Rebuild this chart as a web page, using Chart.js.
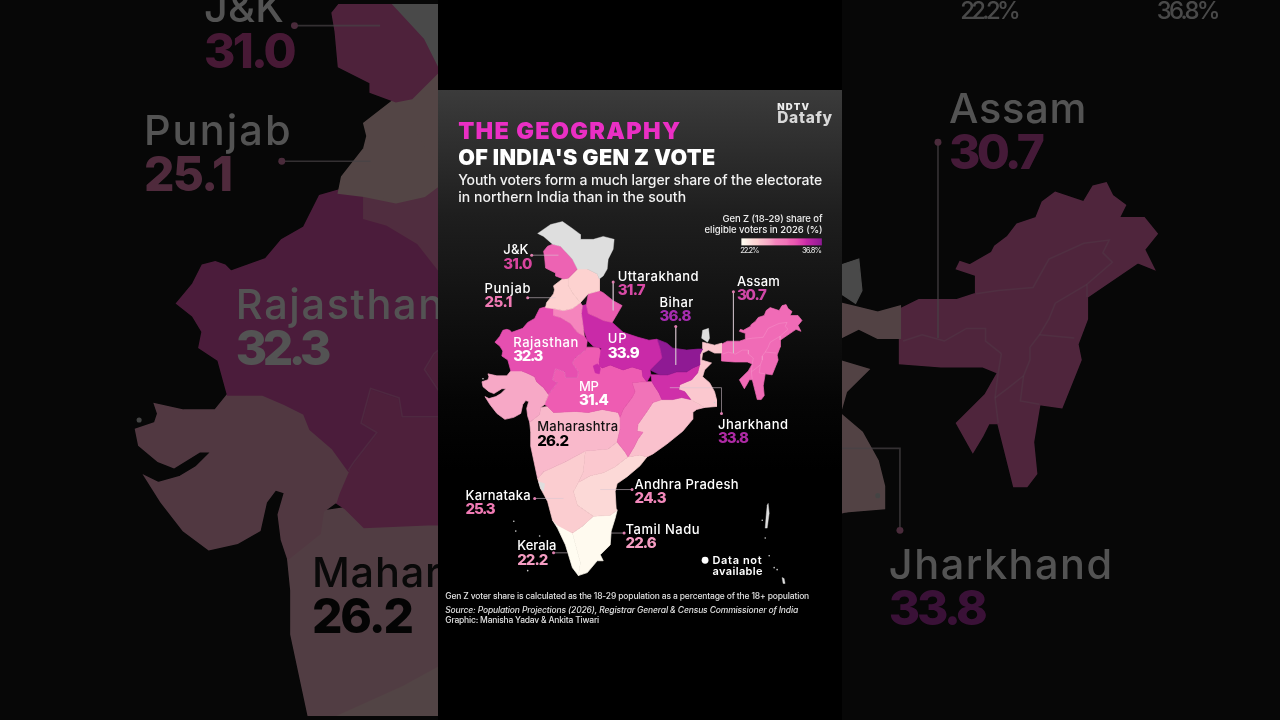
<!DOCTYPE html>
<html>
<head>
<meta charset="utf-8">
<title>The geography of India's Gen Z vote</title>
<script src="https://cdn.jsdelivr.net/npm/chart.js@4/dist/chart.umd.js"></script>
<style>
  html, body { margin: 0; background: #070707; overflow: hidden; }
  canvas { position: absolute; left: 0; top: 0; }
  #back { opacity: 0.31; filter: blur(0.7px); }
  #panel { position: absolute; left: 438px; top: 0; width: 404px; height: 720px;
    background: linear-gradient(#000 0, #000 90px, #3b3b3b 90px, #1e1e1e 215px, #050505 400px, #000 470px); }
</style>
</head>
<body>
<canvas id="back" width="1280" height="720"></canvas>
<div id="panel"></div>
<canvas id="front" width="1280" height="720"></canvas>
<script>
// gen z share (%) by state, labelled ones read from the graphic, others estimated from the shade
const states = ['J&K', 'Himachal', 'Punjab', 'Haryana', 'Uttarakhand', 'UP', 'Bihar', 'Jharkhand', 'West Bengal',
  'Rajasthan', 'Gujarat', 'MP', 'Chhattisgarh', 'Odisha', 'Maharashtra', 'Telangana', 'Karnataka', 'Andhra Pradesh',
  'Tamil Nadu', 'Kerala', 'North East'];
const shares = [31.0, 25.0, 25.1, 28.4, 31.7, 33.9, 36.8, 33.8, 25.4, 32.3, 27.2, 31.4, 30.4, 25.7, 26.2, 25.4, 25.3, 24.3, 22.6, 22.2, 30.7];

// outlines in map units
const outlines = {
  'J&K': [[552,243],[560,245],[572,258],[577,268],[568,277],[563,278],[555,275],[555,272],[545,267],[544,256],[543,250],[547,245]],
  'Himachal': [[577,268],[587,268],[597,273],[599,278],[599,290],[588,293],[580,302],[572,292],[568,285],[568,277]],
  'Punjab': [[568,277],[562,278],[553,285],[554,289],[553,293],[546,302],[545,307],[553,308],[563,310],[572,308],[580,302],[572,292],[568,285]],
  'Haryana': [[553,308],[563,310],[572,308],[580,302],[582,305],[581,313],[583,328],[584,336],[577,332],[570,323],[560,317],[553,315]],
  'Uttarakhand': [[599,290],[603,292],[613,300],[622,305],[615,317],[612,322],[603,320],[597,317],[588,313],[586,304],[588,293]],
  'UP': [[586,304],[588,313],[597,317],[603,320],[612,322],[623,332],[638,337],[649,340],[657,339],[660,348],[662,358],[655,365],[650,370],[651,375],[647,382],[643,377],[642,370],[632,367],[623,370],[610,365],[602,368],[597,364],[593,366],[595,373],[599,374],[600,369],[599,362],[601,348],[593,346],[587,340],[583,328],[581,313],[582,305]],
  'Bihar': [[657,339],[667,343],[673,348],[687,350],[698,349],[703,349],[700,355],[700,365],[693,368],[687,372],[677,372],[668,375],[660,375],[650,370],[655,365],[662,358],[660,348]],
  'Jharkhand': [[651,375],[660,375],[668,375],[677,372],[687,372],[693,368],[700,365],[698,373],[692,380],[680,385],[679,390],[685,392],[691,400],[682,398],[673,400],[662,400],[659,393],[655,387],[652,382]],
  'West Bengal': [[703,342],[707,343],[715,345],[722,343],[722,353],[715,353],[709,350],[703,353],[702,360],[712,363],[705,370],[703,377],[710,383],[715,392],[717,400],[717,407],[705,408],[700,405],[691,400],[685,392],[679,390],[680,385],[692,380],[698,373],[700,365],[700,355],[703,349]],
  'Rajasthan': [[546,306],[553,308],[553,315],[560,317],[570,323],[577,332],[584,336],[587,340],[586,347],[585,350],[575,358],[572,363],[578,372],[577,378],[565,378],[564,372],[555,369],[552,380],[557,383],[550,392],[548,395],[543,388],[536,382],[534,377],[528,374],[521,371],[510,371],[507,360],[501,356],[502,351],[499,346],[494,342],[499,336],[502,330],[506,329],[509,330],[511,332],[522,328],[527,322],[534,318],[539,308]],
  'Gujarat': [[510,371],[506,376],[496,376],[487,374],[488,377],[487,380],[481,382],[482,387],[488,392],[493,394],[501,389],[505,389],[500,394],[495,397],[488,399],[484,397],[489,405],[496,414],[504,420],[513,418],[520,414],[522,405],[525,401],[528,402],[526,409],[527,417],[529,423],[539,415],[540,408],[544,405],[545,402],[548,395],[543,388],[536,382],[534,377],[528,374],[521,371]],
  'MP': [[586,347],[598,347],[602,352],[599,360],[599,362],[600,369],[599,374],[595,373],[593,366],[597,364],[602,368],[610,365],[623,370],[632,367],[642,370],[643,377],[647,382],[642,382],[632,383],[635,392],[632,398],[623,410],[620,418],[618,413],[602,410],[588,413],[575,412],[553,413],[547,407],[544,405],[545,402],[548,395],[550,392],[557,383],[552,380],[555,369],[564,372],[565,378],[577,378],[578,372],[572,363],[575,358],[585,350]],
  'Chhattisgarh': [[632,383],[642,382],[647,382],[652,382],[655,387],[659,393],[662,400],[653,403],[647,412],[638,425],[637,432],[643,433],[638,440],[634,448],[628,458],[625,453],[617,443],[620,430],[620,418],[623,410],[632,398],[635,392]],
  'Odisha': [[662,400],[673,400],[682,398],[691,400],[700,405],[705,408],[697,410],[693,413],[693,420],[683,432],[667,445],[653,455],[647,458],[640,456],[628,458],[634,448],[638,440],[643,433],[637,432],[638,425],[647,412],[653,403]],
  'Maharashtra': [[529,423],[539,415],[540,408],[547,407],[553,413],[575,412],[588,413],[602,410],[618,413],[620,418],[620,430],[617,443],[608,450],[585,452],[565,463],[543,473],[537,480],[530,447],[530,433]],
  'Telangana': [[585,452],[608,450],[617,443],[625,453],[628,458],[625,460],[615,468],[603,474],[590,477],[578,484],[583,473]],
  'Karnataka': [[543,473],[565,463],[585,452],[583,473],[578,484],[573,493],[577,507],[593,518],[582,528],[572,535],[557,527],[552,522],[547,503],[540,490],[537,480]],
  'Andhra Pradesh': [[578,484],[590,477],[603,474],[615,468],[625,460],[628,458],[640,456],[647,458],[640,467],[627,478],[617,485],[615,493],[616,510],[617,512],[610,517],[593,518],[577,507],[573,493]],
  'Tamil Nadu': [[572,535],[582,528],[593,518],[610,517],[617,512],[615,520],[611,533],[610,547],[600,557],[603,563],[597,563],[587,575],[578,578],[580,565],[576,550]],
  'Kerala': [[552,522],[557,526],[572,535],[576,550],[580,565],[578,578],[572,570],[565,547],[557,530]],
  'North East': [[722,344],[728,341],[740,341],[746,339],[746,333],[740,331],[741,329],[744,330],[751,326],[752,324],[756,321],[759,317],[765,315],[767,310],[771,307],[780,310],[783,305],[787,304],[789,308],[793,311],[791,315],[799,315],[803,320],[799,325],[802,331],[797,329],[781,340],[781,347],[778,355],[779,360],[773,375],[766,374],[764,386],[765,396],[762,400],[758,400],[753,380],[750,380],[748,384],[745,389],[740,380],[749,371],[753,364],[748,362],[735,362],[722,361]]
};
// no data areas (Ladakh side of J&K, Sikkim, small patches)
const noDataAreas = [
  [[537,232],[550,223],[562,220],[572,227],[580,233],[580,238],[593,238],[603,235],[614,238],[613,248],[608,258],[607,268],[603,275],[599,278],[597,273],[587,268],[577,268],[572,258],[560,245],[552,243],[543,235]],
  [[702,338],[703,330],[709,328],[710,338],[708,342]],
  [[538,483],[544,485],[543,493],[540,490]],
  [[769,505],[770,515],[768,530],[766,530],[767,517],[768,507]],
  [[783,580],[785,581],[786,586],[784,586]]
];
const islandDots = [[513,523],[515,533],[539,538],[527,573],[482,379],[766,540],[770,558],[778,572],[775,570],[763,522],[715,403]];
const innerBorders = [
  [[723,354],[729,352],[736,354],[743,350],[749,350],[749,354],[754,358]],
  [[746,339],[753,338],[764,337],[769,328],[780,323],[788,322],[786,326],[789,329],[781,336],[781,340]],
  [[781,336],[771,342],[769,347],[766,352],[763,356],[763,360],[761,365],[760,373],[766,374]],
  [[766,352],[777,353]],
  [[754,358],[753,364],[752,372],[753,380]],
  [[752,372],[756,369],[761,365]],
  [[585,350],[575,358],[572,363],[578,372],[577,378],[565,378],[564,372],[555,369],[552,380],[557,383],[550,392],[548,395]]
];
const leaders = [
  [[531,254],[558,254]], [[527,297],[555,297]], [[613,281],[613,310]], [[676,326],[676,365]], [[734,291],[734,353]],
  [[722,414],[722,388],[670,388]], [[632,491],[600,491]], [[534,500],[563,500]], [[624,535],[610,535]], [[553,555],[567,555]]
];

// colour ramp
const rampValues = [22.2, 22.6, 24.3, 25.1, 25.3, 25.4, 25.7, 26.2, 27.2, 28.4, 30.4, 30.7, 31.0, 31.4, 31.7, 32.3, 33.8, 33.9, 36.8];
const rampColors = ['#fffcf1', '#fffaef', '#fcd9d7', '#fdd2d0', '#fbcdd0', '#fbc8cf', '#fac1cd', '#f9b9cb', '#f7a8c6', '#f585bd', '#f173b8', '#f06bb6', '#ed63b3', '#ee5cb2', '#ea5cb0', '#e64fb0', '#cf2fa9', '#c92aa8', '#8f1a94'];

const labelNames = ['J&K', 'Punjab', 'Uttarakhand', 'Assam', 'Bihar', 'Rajasthan', 'UP', 'MP', 'Maharashtra', 'Jharkhand', 'Andhra Pradesh', 'Karnataka', 'Tamil Nadu', 'Kerala'];
const labelValues = ['31.0', '25.1', '31.7', '30.7', '36.8', '32.3', '33.9', '31.4', '26.2', '33.8', '24.3', '25.3', '22.6', '22.2'];
const labelX = [502.5, 483.5, 617.5, 737.5, 659.5, 512.5, 607.5, 578.5, 536.5, 718.5, 634.5, 464.5, 625.5, 516.5];
const labelY = [253, 292, 280, 285, 306, 347, 343, 391, 432, 429.5, 490.5, 501.5, 535.5, 552.5];
const labelNameW = [25, 46, 81, 43, 34, 65, 19, 20, 81, 70, 104, 65, 74, 39];
const labelValW = [29, 28, 28, 30, 32, 30, 32, 30, 32, 31, 32, 30, 31, 31];
const labelNameColor = ['#fff', '#fff', '#fff', '#fff', '#fff', '#fff', '#fff', '#fff', '#111', '#fff', '#fff', '#fff', '#fff', '#fff'];
const labelValColor = ['#d8459f', '#f07ab4', '#d84aa6', '#d048a8', '#a62cb0', '#fff', '#fff', '#fff', '#000', '#ae2aa4', '#f288bb', '#f07ab4', '#f59cc2', '#f59cc2'];

const font = 'Inter, sans-serif';
// text, x, baseline, width, font, colour
const headerTexts = [
  ['THE GEOGRAPHY', 457, 136.5, 222, '900 23.5px ' + font, '#ea2fc4'],
  ["OF INDIA'S GEN Z VOTE", 457, 162.5, 257, '900 21.5px ' + font, '#fff'],
  ['Youth voters form a much larger share of the electorate', 457, 183, 364, '500 14px ' + font, '#f2f2f2'],
  ['in northern India than in the south', 457, 200, 228, '500 14px ' + font, '#f2f2f2'],
  ['NDTV', 778, 107, 32, '900 9.5px ' + font, '#ececec'],
  ['Datafy', 778, 120, 55, '800 15.5px ' + font, '#d8d8d8'],
  ['Gen Z (18-29) share of', 723, 220, 100, '500 9.5px ' + font, '#eee'],
  ['eligible voters in 2026 (%)', 705, 232, 118, '500 9.5px ' + font, '#eee'],
  ['22.2%', 741, 252, 19, '500 7.5px ' + font, '#ddd'],
  ['36.8%', 803, 252, 20, '500 7.5px ' + font, '#ddd'],
  ['Data not', 713, 566, 49, '600 11px ' + font, '#fff'],
  ['available', 713, 577, 50, '600 11px ' + font, '#fff'],
  ['Gen Z voter share is calculated as the 18-29 population as a percentage of the 18+ population', 444, 602, 364, '500 8.5px ' + font, '#e0e0e0'],
  ['Source: Population Projections (2026), Registrar General & Census Commissioner of India', 444, 616, 353, 'italic 500 8.5px ' + font, '#e0e0e0'],
  ['Graphic: Manisha Yadav & Ankita Tiwari', 444, 626, 154, '500 8.5px ' + font, '#e0e0e0']
];

function shade(value) {
  let i = rampValues.findIndex(v => value <= v);
  return rampColors[Math.max(i, 0)];
}

function toPoints(list) {
  return list.map(p => ({ x: p[0], y: p[1] }));
}

function polygon(list, color, stroke, width) {
  return {
    data: toPoints(list.concat([list[0]])),
    showLine: true,
    backgroundColor: color,
    borderColor: stroke,
    borderWidth: width,
    fill: 'shape',
    pointRadius: 0,
    tension: 0
  };
}

// draws a string fitted to the width it has in the graphic
function fitText(ctx, sx, sy, zoom, text, x, y, w, fontStr, color) {
  ctx.font = fontStr.replace(/([\d.]+)px/, (m, s) => (s * zoom) + 'px');
  ctx.letterSpacing = '0px';
  let natural = ctx.measureText(text).width;
  ctx.letterSpacing = ((w * zoom - natural) / Math.max(text.length - 1, 1)) + 'px';
  ctx.fillStyle = color;
  ctx.textAlign = 'left';
  ctx.textBaseline = 'alphabetic';
  ctx.fillText(text, sx.getPixelForValue(x), sy.getPixelForValue(y));
  ctx.letterSpacing = '0px';
}

const textPlugin = {
  id: 'mapText',
  afterDatasetsDraw(chart, args, opts) {
    const ctx = chart.ctx, sx = chart.scales.x, sy = chart.scales.y, z = opts.zoom;
    ctx.save();
    // legend bar
    const x0 = sx.getPixelForValue(742), x1 = sx.getPixelForValue(823);
    const grad = ctx.createLinearGradient(x0, 0, x1, 0);
    rampValues.forEach((v, i) => grad.addColorStop((v - 22.2) / 14.6, rampColors[i]));
    ctx.fillStyle = grad;
    ctx.fillRect(x0, sy.getPixelForValue(237), x1 - x0, 7 * z);
    // white no-data dot
    ctx.fillStyle = '#fff';
    ctx.beginPath();
    ctx.arc(sx.getPixelForValue(705.5), sy.getPixelForValue(562.5), 3.4 * z, 0, Math.PI * 2);
    ctx.fill();
    headerTexts.forEach(t => fitText(ctx, sx, sy, z, t[0], t[1], t[2], t[3], t[4], t[5]));
    labelNames.forEach((name, i) => {
      fitText(ctx, sx, sy, z, name, labelX[i], labelY[i], labelNameW[i], '500 13px ' + font, labelNameColor[i]);
      fitText(ctx, sx, sy, z, labelValues[i], labelX[i], labelY[i] + 14.5, labelValW[i], '800 15px ' + font, labelValColor[i]);
    });
    ctx.restore();
  }
};

function drawMap(id, zoom) {
  const datasets = [];
  leaders.forEach(l => datasets.push({
    data: toPoints(l),
    showLine: true,
    borderColor: 'rgba(215,200,210,0.7)',
    borderWidth: 0.4 * zoom + 0.4,
    pointRadius: l.map((p, i) => i === 0 ? 0.9 * zoom + 0.6 : 0),
    pointBackgroundColor: '#e07fb0',
    pointBorderWidth: 0,
    fill: false,
    tension: 0
  }));
  innerBorders.forEach(l => datasets.push({
    data: toPoints(l),
    showLine: true,
    borderColor: 'rgba(255,215,235,0.3)',
    borderWidth: 0.4 * zoom + 0.2,
    pointRadius: 0,
    fill: false,
    tension: 0
  }));
  datasets.push({
    data: toPoints(islandDots),
    showLine: false,
    pointRadius: 0.8 * zoom,
    pointBackgroundColor: '#cfcfcf',
    pointBorderWidth: 0
  });
  noDataAreas.forEach(a => datasets.push(polygon(a, '#dedede', '#dedede', 0.4 * zoom)));
  states.forEach((name, i) => {
    const color = shade(shares[i]);
    datasets.push(polygon(outlines[name], color, color, 0.7 * zoom));
  });

  new Chart(document.getElementById(id), {
    type: 'scatter',
    data: { datasets: datasets },
    options: {
      responsive: false,
      animation: false,
      devicePixelRatio: 1,
      events: [],
      layout: { padding: 0 },
      plugins: { legend: { display: false }, tooltip: { enabled: false }, mapText: { zoom: zoom } },
      scales: {
        x: { type: 'linear', display: false, min: 640 - 640 / zoom, max: 640 + 640 / zoom },
        y: { type: 'linear', display: false, reverse: true, min: 360 - 360 / zoom, max: 360 + 360 / zoom }
      }
    },
    plugins: [textPlugin]
  });
}

drawMap('back', 3.19);
drawMap('front', 1);
</script>
</body>
</html>
